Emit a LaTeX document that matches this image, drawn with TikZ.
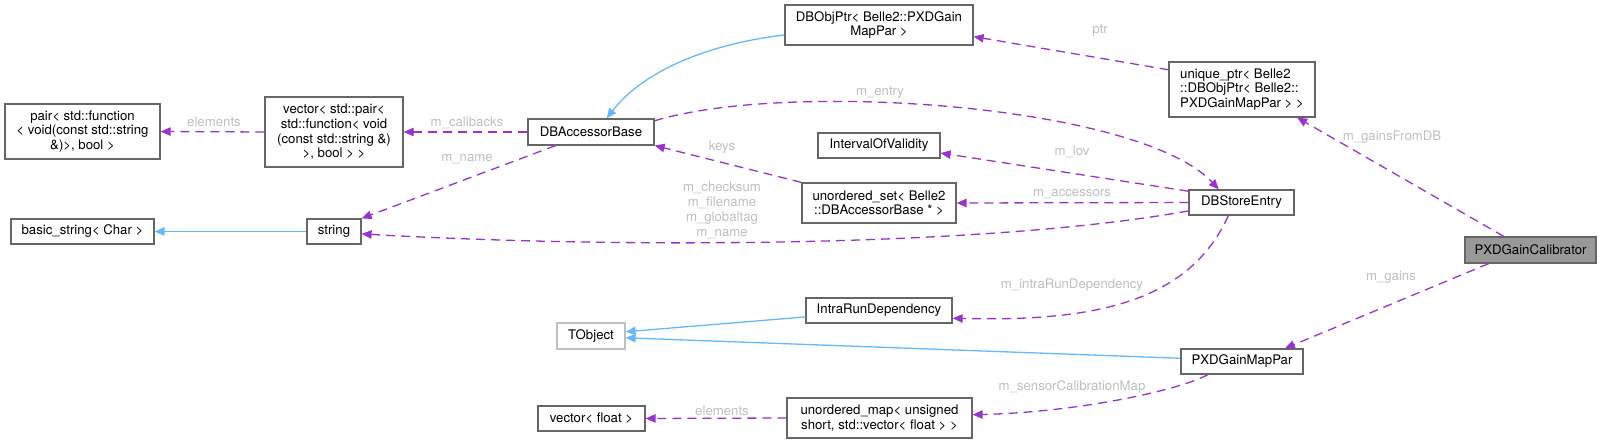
\documentclass[tikz,border=0pt]{standalone}
\usepackage{fontspec}
\setmainfont{TeX Gyre Heros}
\usetikzlibrary{arrows.meta}
\definecolor{edgepurple}{HTML}{9A32CD}
\definecolor{inhblue}{HTML}{63B8FF}
\definecolor{lblgray}{HTML}{BEBEBE}
\definecolor{boxgray}{HTML}{666666}
\definecolor{tobjgray}{HTML}{BFBFBF}
\definecolor{calibgray}{HTML}{999999}

\begin{document}
\begin{tikzpicture}[x=0.5pt, y=-0.5pt,
        every node/.style={font=\fontsize{6.6}{7.3}\selectfont},
        cls/.style={draw=boxgray, line width=0.6pt, fill=white, inner sep=0pt, align=center},
        lbl/.style={text=lblgray, inner sep=0pt, align=center, font=\fontsize{6.6}{7.5}\selectfont},
        dep/.style={draw=edgepurple, line width=0.65pt, dash pattern=on 4.5pt off 3pt, -{Triangle[length=5pt,width=4.2pt]}},
        inh/.style={draw=inhblue, line width=0.65pt, -{Triangle[length=5pt,width=4.2pt]}}]
        \useasboundingbox (0,0) rectangle (1601,444);

        \node[cls, minimum width=77.5pt, minimum height=27.5pt] (pairfn) at (82.5,131.5) {pair< std::function\\< void(const std::string\\\&)>, bool >};
        \node[cls, minimum width=69pt, minimum height=35pt] (vecpair) at (334,132) {vector< std::pair<\\std::function< void\\(const std::string \&)\\>, bool > >};
        \node[cls, minimum width=71.5pt, minimum height=12.5pt] (basicstr) at (82.5,231.5) {basic\_string< Char >};
        \node[cls, minimum width=27pt, minimum height=12.5pt] (str) at (334,231.5) {string};
        \node[cls, minimum width=63pt, minimum height=13pt] (accbase) at (591,132) {DBAccessorBase};
        \node[cls, minimum width=94pt, minimum height=20pt] (objptr) at (879,25) {DBObjPtr< Belle2::PXDGain\\MapPar >};
        \node[cls, minimum width=61pt, minimum height=12.5pt] (iov) at (879,145.5) {IntervalOfValidity};
        \node[cls, minimum width=77pt, minimum height=20pt] (uset) at (879,203) {unordered\_set< Belle2\\::DBAccessorBase * >};
        \node[cls, align=left, minimum width=73pt, minimum height=27.5pt] (uptr) at (1242,89.5) {unique\_ptr< Belle2\\::DBObjPtr< Belle2::\\PXDGainMapPar > >};
        \node[cls, minimum width=52.5pt, minimum height=12.5pt] (store) at (1241.5,202.5) {DBStoreEntry};
        \node[cls, fill=calibgray, minimum width=65.5pt, minimum height=13pt] (calib) at (1530.5,250) {PXDGainCalibrator};
        \node[cls, minimum width=73pt, minimum height=12.5pt] (intra) at (879,310.5) {IntraRunDependency};
        \node[cls, minimum width=61pt, minimum height=12.5pt] (gmap) at (1242,361.5) {PXDGainMapPar};
        \node[cls, draw=tobjgray, minimum width=34pt, minimum height=13pt] (tobj) at (591,336) {TObject};
        \node[cls, minimum width=53.5pt, minimum height=12.5pt] (vfloat) at (591.5,418.5) {vector< float >};
        \node[cls, minimum width=92.5pt, minimum height=20pt] (umap) at (879.5,418) {unordered\_map< unsigned\\short, std::vector< float > >};

        \draw[inh] (objptr.186) .. controls (700,45) and (640,75) .. (accbase.41);
        \draw[inh] (str.west) -- (basicstr.east);
        \draw[inh] (intra.185) -- (tobj.7);
        \draw[inh] (gmap.177) -- (tobj.-3);

        \draw[dep] (uptr.165) -- (objptr.-7);
        \draw[dep] (accbase.west) -- (vecpair.east);
        \draw[dep] (vecpair.west) -- (pairfn.east);
        \draw[dep] (accbase.201) -- (str.north east);
        \draw[dep] (store.189) .. controls (1000,245) and (650,250) .. (str.-5);
        \draw[dep] (accbase.10) .. controls (790,80) and (1140,105) .. (store.150);
        \draw[dep] (store.168) -- (iov.-7);
        \draw[dep] (store.west) -- (uset.east);
        \draw[dep] (uset.north west) -- (accbase.-12);
        \draw[dep] (store.-135) .. controls (1190,300) and (1100,322) .. (intra.-6);
        \draw[dep] (calib.153) -- (uptr.-27);
        \draw[dep] (calib.198) -- (gmap.17);
        \draw[dep] (gmap.201) .. controls (1180,390) and (1080,412) .. (umap.2);
        \draw[dep] (umap.west) -- (vfloat.east);

        \node[lbl] (lptr) at (1100,31) {ptr};
        \node[lbl] (lcallbacks) at (467,123) {m\_callbacks};
        \node[lbl] (lelemfn) at (214,122) {elements};
        \node[lbl] (lname) at (467,159) {m\_name};
        \node[lbl] (lstrings) at (722,210.5) {m\_checksum\\m\_filename\\m\_globaltag\\m\_name};
        \node[lbl] (lentry) at (880,93) {m\_entry};
        \node[lbl] (liov) at (1072,152) {m\_iov};
        \node[lbl] (laccessors) at (1072,194) {m\_accessors};
        \node[lbl] (lkeys) at (722,147) {keys};
        \node[lbl] (lintra) at (1072,285) {m\_intraRunDependency};
        \node[lbl] (lgainsdb) at (1392,137) {m\_gainsFromDB};
        \node[lbl] (lgains) at (1391,277) {m\_gains};
        \node[lbl] (lsensor) at (1072,387) {m\_sensorCalibrationMap};
        \node[lbl] (lelemfl) at (722,411) {elements};
\end{tikzpicture}
\end{document}
